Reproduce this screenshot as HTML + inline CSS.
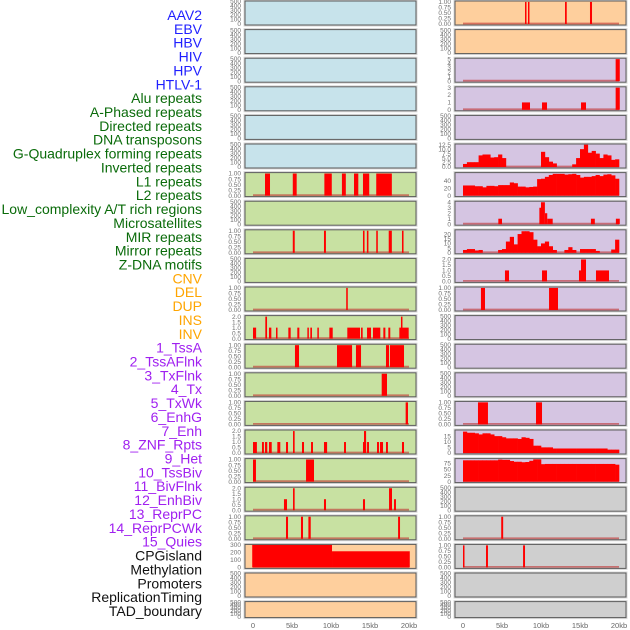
<!DOCTYPE html>
<html><head><meta charset="utf-8"><style>
html,body{margin:0;padding:0;background:#fff;}
svg{display:block;font-family:"Liberation Sans",sans-serif;}
</style></head><body>
<svg id="chart" width="630" height="630" viewBox="0 0 630 630"></svg>
<script>
const labelNames=["AAV2","EBV","HBV","HIV","HPV","HTLV-1","Alu repeats","A-Phased repeats","Directed repeats","DNA transposons","G-Quadruplex forming repeats","Inverted repeats","L1 repeats","L2 repeats","Low_complexity A/T rich regions","Microsatellites","MIR repeats","Mirror repeats","Z-DNA motifs","CNV","DEL","DUP","INS","INV","1_TssA","2_TssAFlnk","3_TxFlnk","4_Tx","5_TxWk","6_EnhG","7_Enh","8_ZNF_Rpts","9_Het","10_TssBiv","11_BivFlnk","12_EnhBiv","13_ReprPC","14_ReprPCWk","15_Quies","CPGisland","Methylation","Promoters","ReplicationTiming","TAD_boundary"];
const labelGroups=[0,0,0,0,0,0,1,1,1,1,1,1,1,1,1,1,1,1,1,2,2,2,2,2,3,3,3,3,3,3,3,3,3,3,3,3,3,3,3,4,4,4,4,4];
const groupColors=["#1f1fff","#0a6b0a","#ffa500","#a020f0","#111"];
const xTickValues=[0,5,10,15,20];
const xTickLabels=["0","5kb","10kb","15kb","20kb"];
const L6=[[1.54,2.18,1],[5.1,5.6,1],[9.15,10.1,1],[11.4,11.9,1],[12.95,13.5,1],[14.1,14.9,1],[15.8,17.8,1]];
const L8=[[5.1,5.35,1],[9.1,9.35,1],[14.1,14.3,1],[14.6,14.8,1],[15.8,16.0,1],[17.4,17.8,1],[19.1,19.3,1]];
const L10=[[11.95,12.15,1]];
const L11=[[0,0.4,1],[1.58,1.8,2],[2.05,2.35,1],[2.95,3.12,1],[4.53,4.83,1],[5.68,5.94,1],[6.97,7.14,1],[7.35,7.56,1],[8.25,8.42,1],[9.79,10.22,1],[12.09,13.72,1],[13.85,14.06,1],[14.62,15.13,1],[15.38,16.32,1],[16.71,16.97,1],[17.35,17.6,1],[18.76,19.96,1],[18.97,19.15,2]];
const L12=[[5.38,5.9,1],[10.77,12.7,1],[13.2,13.85,1],[17.05,17.44,1],[17.56,19.36,1]];
const L13=[[16.5,17.18,1]];
const L14=[[19.57,19.87,1]];
const L15=[[0,0.5,1],[1.15,1.4,1],[1.54,1.83,1],[2.05,2.4,1],[3.12,3.5,1],[4.23,4.49,1],[5.13,5.34,2],[6.28,6.54,1],[7.44,7.69,1],[9.1,9.5,1],[11.67,11.92,1],[14.1,14.5,1],[14.23,14.5,2],[14.62,14.87,1],[15.9,16.15,1],[16.28,16.67,1],[17.05,17.3,1],[19.1,19.36,1]];
const L16=[[0,0.38,1],[6.8,7.82,1]];
const L17=[[3.97,4.36,1],[5.13,5.34,2],[9.1,9.36,1],[14.1,14.36,1],[17.44,17.82,2],[18.08,18.33,1]];
const L18=[[4.23,4.49,1],[6.15,6.41,1],[7.1,7.4,1],[18.6,18.85,1]];
const L19=[[-0.1,10.13,300],[10.13,20.1,215]];
const R0=[[7.95,8.08,1],[8.33,8.5,1],[13.08,13.3,1],[16.28,16.54,1]];
const R2=[[19.57,20.1,5]];
const R3=[[7.56,8.59,1],[10.13,10.77,1],[15.13,15.77,1],[19.57,20.1,3]];
const R7=[[4.53,5.0,1],[9.79,10.0,3],[10.0,10.5,4],[10.5,10.8,2],[10.8,11.5,1],[16.4,16.9,1],[19.6,20.1,1]];
const R9=[[5.38,5.9,1],[10.13,10.77,1],[14.87,15.13,1],[15.13,15.77,2],[17.05,18.72,1]];
const R10=[[2.3,2.82,1],[11.03,12.18,1]];
const R14=[[1.92,3.2,1],[9.36,10.13,1]];
const R18=[[4.9,5.15,1]];
const R19=[[0,0.15,1],[2.95,3.2,1],[7.7,7.95,1]];
const R5bins=[1.7,2.7,2.7,2.7,6.5,7,7,5.3,5.5,7,5,0,0,0,0,0,0,0,0,0,8.5,5.5,3,2,0,0,0,0,1.5,5,10,12.5,8,9,7.5,5,7,6.5,4,4.3];
const R6bins=[27,27,27,25,25,22,26,26,25,28,28,28,35,33,24,24,22,23,24,44,45,50,55,58,58,58,56,57,58,55,48,50,50,52,55,52,56,57,54,45];
const R8bins=[3,4,4,2.5,3,0,0,0,0,3,4,12,17,9,20,23,23,22,14,7,10,12,7,3,0,0,3,6,3,0,4,4,4,4,2,0,0,0,3.5,14];
const R15bins=[19,18,18,17.5,16.5,17.5,17.5,16.5,15,15,14,13,13,13,12.5,14,13.5,12.5,6.5,6.5,5,5,5,4,4,4,4,4,4,4,4,4,4,4,4,4,4,3,3,3];
const R16bins=[88,88,88,88,88,88,88,88,88,91,90,90,85,82,82,80,81,86,92,92,72,73,73,73,73,73,73,73,73,73,73,73,73,73,73,73,73,73,73,70];
const T500=[0,100,200,300,400,500];
const T1=[0,0.25,0.5,0.75,1];
const T2=[0,0.5,1,1.5,2];
const B="#c7e3eb",G="#c8e1a2",P="#fecf9d",V="#d5c5e2",Y="#cfcfcf";
const panels=[
[0,0,B,500,T500,0,null,null],[0,1,B,500,T500,0,null,null],[0,2,B,500,T500,0,null,null],[0,3,B,500,T500,0,null,null],[0,4,B,500,T500,0,null,null],[0,5,B,500,T500,0,null,null],
[0,6,G,1.02,T1,2,L6,null],[0,7,G,500,T500,0,null,null],[0,8,G,1.02,T1,2,L8,null],[0,9,G,500,T500,0,null,null],[0,10,G,1.02,T1,2,L10,null],[0,11,G,2.05,T2,1,L11,null],
[0,12,G,1.02,T1,2,L12,null],[0,13,G,1.02,T1,2,L13,null],[0,14,G,1.02,T1,2,L14,null],[0,15,G,2.05,T2,1,L15,null],[0,16,G,1.02,T1,2,L16,null],[0,17,G,2.05,T2,1,L17,null],
[0,18,G,1.02,T1,2,L18,null],[0,19,P,300,[0,100,200,300],0,L19,null],[0,20,P,500,T500,0,null,null],[0,21,P,500,T500,0,null,null],
[1,0,P,1.02,T1,2,R0,null],[1,1,P,500,T500,0,null,null],[1,2,V,5.1,[0,1,2,3,4,5],0,R2,null],[1,3,V,3.05,[0,1,2,3],0,R3,null],[1,4,V,500,T500,0,null,null],
[1,5,V,12.6,[0,2.5,5,7.5,10,12.5],1,null,R5bins],[1,6,V,60,[0,20,40],0,null,R6bins],[1,7,V,4.1,[0,1,2,3,4],0,R7,null],[1,8,V,24,[0,5,10,15,20],0,null,R8bins],
[1,9,V,2.05,T2,1,R9,null],[1,10,V,1.02,T1,2,R10,null],[1,11,V,500,T500,0,null,null],[1,12,V,500,T500,0,null,null],[1,13,V,500,T500,0,null,null],
[1,14,V,1.02,T1,2,R14,null],[1,15,V,20,[0,5,10,15],0,null,R15bins],[1,16,V,93,[0,25,50,75],0,null,R16bins],
[1,17,Y,500,T500,0,null,null],[1,18,Y,1.02,T1,2,R18,null],[1,19,Y,1.02,T1,2,R19,null],[1,20,Y,500,T500,0,null,null],[1,21,Y,500,T500,0,null,null]
];
const NS="http://www.w3.org/2000/svg";
const svg=document.getElementById('chart');
function mk(tag,attrs,parent){const e=document.createElementNS(NS,tag);for(const k in attrs)e.setAttribute(k,attrs[k]);(parent||svg).appendChild(e);return e;}
const colX=[245,455];
function panelTop(r){return 1+r*28.6;}
function panelH(r){return r===21?16:24;}
function xScale(c,kb){return colX[c]+8+kb*7.8;}
labelNames.forEach((n,i)=>{
  const t=mk('text',{x:202,y:20+i*13.86,'text-anchor':'end','font-size':'14',fill:groupColors[labelGroups[i]]});
  
  
  t.textContent=n;
});
panels.forEach(p=>{
  const [c,r,bg,ymax,ticks,dec,bars,bins]=p;
  const top=panelTop(r),h=panelH(r),x0=colX[c],w=171;
  const y0=top+h-1, yr=h-1.5;
  const ys=v=>y0-v/ymax*yr;
  const g=mk('g',{});
  
  
  mk('rect',{x:x0-1,y:top-1,width:w+2,height:h+2,fill:'none',stroke:'#d8d8d8','stroke-width':1},g);
  mk('rect',{x:x0,y:top,width:w,height:h,fill:bg},g);
  if(bars||bins){
    const base=mk('line',{x1:xScale(c,0),x2:xScale(c,20),y1:y0-0.5,y2:y0-0.5,stroke:'#c03030','stroke-opacity':0.6,'stroke-width':1.8},g);
    
    
  }
  if(bars){bars.forEach(b=>{
    const xa=xScale(c,b[0]),xb=xScale(c,b[1]);
    const rc=mk('rect',{x:xa,y:ys(b[2]),width:Math.max(1.5,xb-xa),height:y0-ys(b[2]),fill:'#ff0000'},g);
    
    
  });}
  if(bins){bins.forEach((v,i)=>{
    if(v<=0)return;
    const xa=xScale(c,i*0.5),xb=xScale(c,(i+1)*0.5);
    const rc=mk('rect',{x:xa,y:ys(v),width:xb-xa+0.3,height:y0-ys(v),fill:'#ff0000'},g);
    
    
  });}
  mk('rect',{x:x0,y:top,width:w,height:h,fill:'none',stroke:'#5a5a5a','stroke-width':1},g);
  ticks.forEach(tv=>{
    const t=mk('text',{x:x0-4,y:ys(tv)+2.2,'text-anchor':'end','font-size':'6.5',fill:'#707070'},g);
    
    
    t.textContent=tv.toFixed(dec);
  });
});
[0,1].forEach(c=>{
  xTickValues.forEach((v,i)=>{
    const t=mk('text',{x:xScale(c,v),y:628,'text-anchor':'middle','font-size':'7.5',fill:'#666'});
    
    
    t.textContent=xTickLabels[i];
  });
});
</script>
</body></html>
